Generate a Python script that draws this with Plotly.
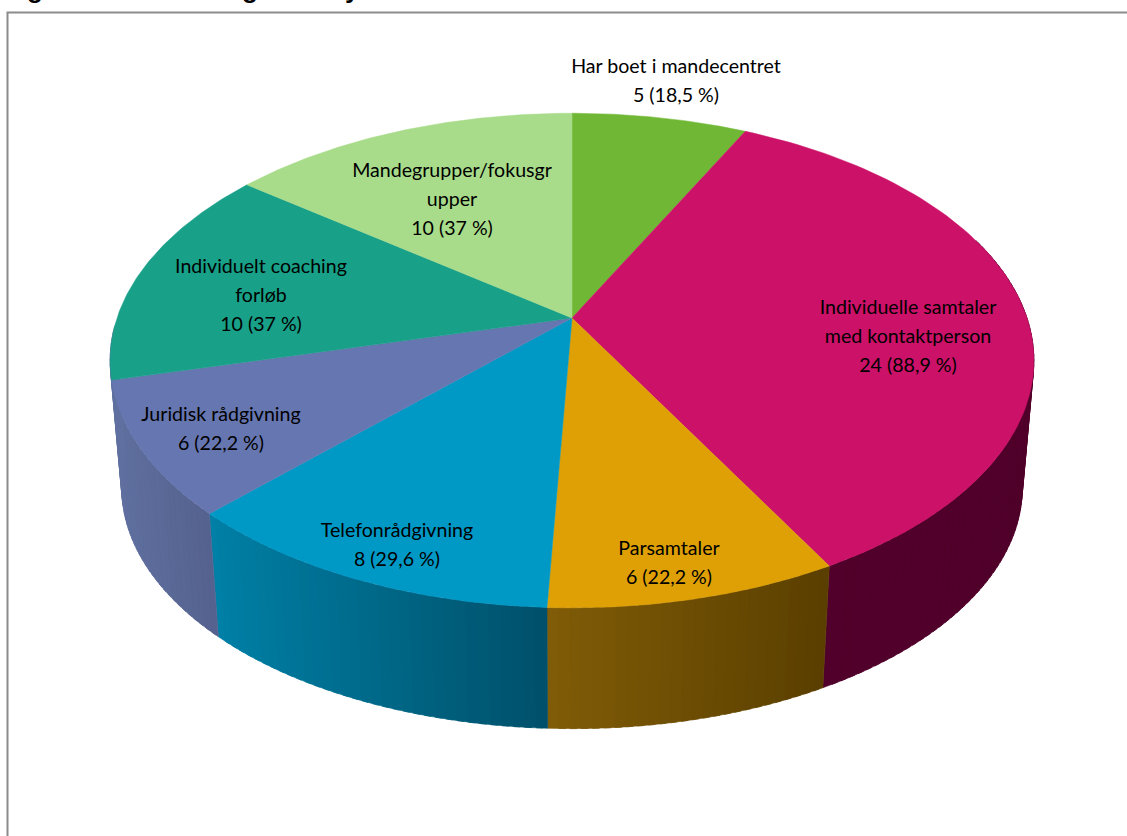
import numpy as np
import plotly.graph_objects as go

categories = ["Har boet i mandecentret", "Individuelle samtaler med kontaktperson", "Parsamtaler",
              "Telefonrådgivning", "Juridisk rådgivning", "Individuelt coaching forløb",
              "Mandegrupper/fokusgrupper"]
values = [5, 24, 6, 8, 6, 10, 10]
label_lines = [["Har boet i mandecentret", "5 (18,5 %)"],
               ["Individuelle samtaler", "med kontaktperson", "24 (88,9 %)"],
               ["Parsamtaler", "6 (22,2 %)"],
               ["Telefonrådgivning", "8 (29,6 %)"],
               ["Juridisk rådgivning", "6 (22,2 %)"],
               ["Individuelt coaching", "forløb", "10 (37 %)"],
               ["Mandegrupper/fokusgr", "upper", "10 (37 %)"]]
title_fragments = ["Fig", "g", "y"]
top_colors = ["#70b735", "#cc1168", "#dfa006", "#0099c6", "#6676b0", "#18a088", "#a8dc8b"]
side_left = ["#3f6a1c", "#50002a", "#805c08", "#0080a6", "#6070a0", "#6070a0", "#6a9050"]
side_right = ["#3f6a1c", "#50002a", "#5a3f00", "#004f69", "#55628e", "#6070a0", "#6a9050"]
label_x = [676, 908, 669, 397, 221, 261, 452]
label_y = [[68, 97], [309, 338, 367], [550, 579], [532, 561], [416, 445], [268, 297, 326], [172, 201, 230]]
title_x = [4, 250, 352]
title_anchor = ["left", "center", "center"]

CX, CY = 572, 318
SX, A, K = 455, 240, 0.172
DEPTH_S, DEPTH_Y = 0.975, 446


def top_pt(theta):
    s, c = np.sin(theta), np.cos(theta)
    w = 1 + K * c
    return CX + SX * s / w, CY - A * c / w


def low_pt(theta):
    x, y = top_pt(theta)
    return CX + DEPTH_S * (x - CX), DEPTH_Y + DEPTH_S * (y - CY)


def hex_rgb(h):
    return np.array([int(h[i:i + 2], 16) for i in (1, 3, 5)], float)


edges = np.concatenate([[0], np.cumsum(values)]) / sum(values) * 2 * np.pi
fig = go.Figure()

# side wall, strip by strip so that it can darken from left to right
for i in range(len(values)):
    t0, t1 = edges[i], edges[i + 1]
    lo, hi = max(t0, np.radians(70)), min(t1, np.radians(268))
    if hi <= lo:
        continue
    x_start, x_end = low_pt(hi)[0], low_pt(lo)[0]
    n = max(2, int(np.degrees(hi - lo) / 1.2))
    ts = np.linspace(hi, lo, n + 1)
    for a, b in zip(ts[:-1], ts[1:]):
        b2 = max(lo, b - (hi - lo) / n * 0.6)
        xa, ya = top_pt(a)
        xb, yb = top_pt(b2)
        xc, yc = low_pt(b2)
        xd, yd = low_pt(a)
        f = (min(xc, xd) - x_start) / max(x_end - x_start, 1)
        rgb = hex_rgb(side_left[i]) * (1 - f) + hex_rgb(side_right[i]) * f
        col = "rgb(%d,%d,%d)" % tuple(rgb)
        fig.add_trace(go.Scatter(x=[xa, xb, xc, xd, xa], y=[ya, yb, yc, yd, ya], mode="lines",
                                 fill="toself", fillcolor=col,
                                 line=dict(width=0.6, color=col), hoverinfo="skip", showlegend=False))

# top face
for i, name in enumerate(categories):
    ts = np.linspace(edges[i], edges[i + 1], 90)
    xs, ys = top_pt(ts)
    fig.add_trace(go.Scatter(x=np.r_[CX, xs, CX], y=np.r_[CY, ys, CY], mode="lines", fill="toself",
                             fillcolor=top_colors[i], line=dict(width=0.5, color=top_colors[i]),
                             name=name, hoverinfo="name", showlegend=False))

# labels
for i, lines in enumerate(label_lines):
    fig.add_trace(go.Scatter(x=[label_x[i]] * len(lines), y=label_y[i], mode="text", text=lines,
                             textposition="middle center",
                             textfont=dict(family="Lato", size=19.6, color="#000000"),
                             hoverinfo="skip", showlegend=False))

# the title line is cut off by the top of the picture: only its descenders show
for frag, x, anchor in zip(title_fragments, title_x, title_anchor):
    fig.add_annotation(x=x, y=4, text="<b>%s</b>" % frag, showarrow=False, xanchor=anchor, yanchor="bottom",
                       borderpad=0, borderwidth=0,
                       font=dict(family="Liberation Sans", size=26, color="#000000"))

fig.add_shape(type="rect", x0=7.5, y0=12.5, x1=1160, y1=860, line=dict(color="#8c8c8c", width=2),
              fillcolor="rgba(0,0,0,0)", layer="below")
fig.update_xaxes(range=[0, 1127], visible=False, fixedrange=True)
fig.update_yaxes(range=[836, 0], visible=False, fixedrange=True)
fig.update_layout(width=1127, height=836, margin=dict(l=0, r=0, t=0, b=0),
                  paper_bgcolor="white", plot_bgcolor="white")
fig.write_html("out.html", config=dict(displayModeBar=False),
               post_script="document.body.style.margin='0';document.body.style.overflow='hidden';")
